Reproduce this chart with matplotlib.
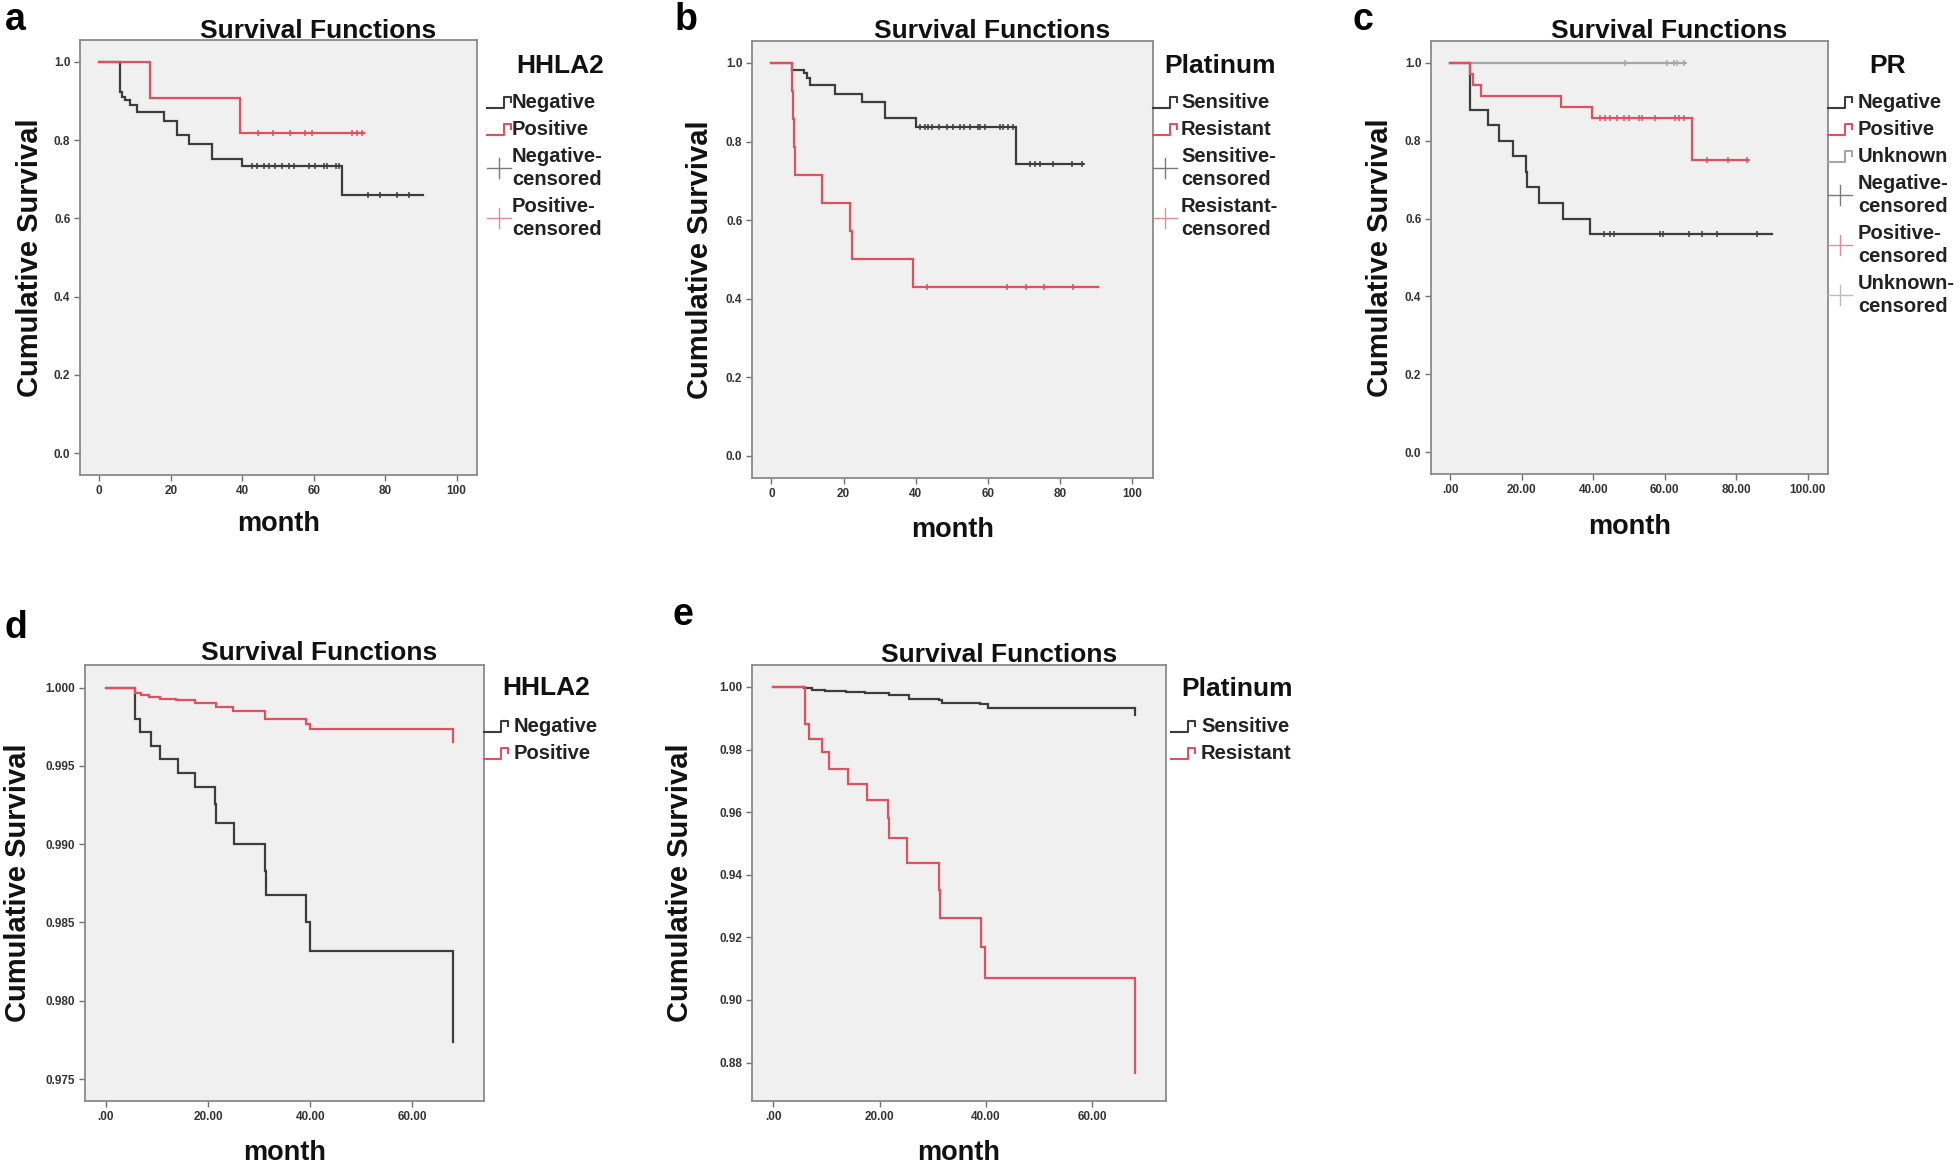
import numpy as np
import matplotlib
matplotlib.use('Agg')
import matplotlib.pyplot as plt
from matplotlib.lines import Line2D

plt.rcParams['font.family'] = ['Liberation Sans', 'DejaVu Sans']

W, H = 1960, 1170

# ---- panel a: HHLA2 ----
neg_a_t = [0, 5.7, 6.4, 7.3, 8.5, 10.6, 18.0, 21.8, 25.0, 31.6, 40.0, 68.0, 90.6]
neg_a_s = [1.0, 0.924, 0.911, 0.903, 0.890, 0.871, 0.849, 0.812, 0.790, 0.753, 0.734, 0.659, 0.659]
neg_a_c = [42.8, 44.2, 46.1, 47.5, 49.3, 51.2, 53.1, 54.5, 58.7, 60.5, 62.9, 63.8,
           66.2, 67.1, 75.3, 78.6, 83.2, 86.6]
pos_a_t = [0, 14.3, 39.3, 74.0]
pos_a_s = [1.0, 0.909, 0.818, 0.818]
pos_a_c = [44.5, 48.7, 53.5, 57.7, 59.4, 70.6, 72.2, 73.4]

# ---- panel b: Platinum ----
sens_b_t = [0, 5.7, 8.9, 9.9, 10.6, 17.7, 25.1, 31.5, 40.1, 67.7, 86.4]
sens_b_s = [1.0, 0.983, 0.974, 0.961, 0.944, 0.922, 0.901, 0.860, 0.838, 0.744, 0.744]
sens_b_c = [41.2, 42.6, 43.5, 44.4, 46.3, 48.6, 50.4, 52.3, 53.2, 55.0, 57.3, 57.8,
            59.2, 63.3, 64.2, 65.6, 67.0, 71.6, 73.0, 74.4, 78.1, 83.3, 86.1]
res_b_t = [0, 5.7, 6.0, 6.3, 6.6, 14.0, 21.7, 22.2, 39.2, 90.6]
res_b_s = [1.0, 0.929, 0.857, 0.786, 0.714, 0.643, 0.571, 0.500, 0.4286, 0.4286]
res_b_c = [43.2, 65.2, 70.4, 75.4, 83.5]

# ---- panel c: PR ----
neg_c_t = [0, 5.6, 10.6, 13.7, 17.6, 21.2, 21.6, 24.7, 31.5, 39.2, 90.0]
neg_c_s = [1.0, 0.88, 0.84, 0.80, 0.76, 0.72, 0.68, 0.64, 0.60, 0.56, 0.56]
neg_c_c = [42.9, 44.7, 45.9, 58.8, 59.4, 66.8, 70.5, 74.6, 85.8]
pos_c_t = [0, 5.6, 6.3, 8.7, 31.1, 39.7, 67.6, 83.4]
pos_c_s = [1.0, 0.971, 0.943, 0.914, 0.886, 0.857, 0.750, 0.750]
pos_c_c = [42.0, 43.4, 44.8, 46.6, 48.5, 49.9, 52.7, 53.6, 57.4, 62.9, 63.9, 65.3,
           71.7, 77.6, 82.9]
unk_c_t = [0, 65.7]
unk_c_s = [1.0, 1.0]
unk_c_c = [49.0, 60.6, 62.5, 63.4, 65.3]

# ---- panel d: HHLA2 (adjusted) ----
neg_d_t = [0, 5.6, 6.6, 8.9, 10.5, 14.1, 17.5, 21.3, 21.6, 25.0, 31.1, 31.4, 39.2, 39.9, 68.0]
neg_d_s = [1.0, 0.99798, 0.99713, 0.99628, 0.99543, 0.99457, 0.99362, 0.99255, 0.99138,
           0.99000, 0.98830, 0.98677, 0.98500, 0.98319, 0.97737]
pos_d_t = [0, 5.6, 6.9, 8.5, 10.5, 13.8, 17.4, 21.6, 24.9, 31.1, 39.2, 39.9, 68.0]
pos_d_s = [1.0, 0.99968, 0.99955, 0.99942, 0.99930, 0.99918, 0.99902, 0.99877, 0.99851,
           0.99798, 0.99766, 0.99738, 0.99652]

# ---- panel e: Platinum (adjusted) ----
sens_e_t = [0, 5.7, 7.3, 9.8, 13.6, 17.3, 21.7, 25.5, 31.1, 31.7, 38.9, 40.5, 68.0]
sens_e_s = [1.0, 0.9995, 0.9990, 0.9987, 0.9983, 0.9979, 0.9973, 0.9962, 0.9957, 0.9947,
            0.9944, 0.9932, 0.9910]
res_e_t = [0, 5.9, 6.7, 9.2, 10.4, 14.1, 17.6, 21.6, 21.8, 25.1, 31.1, 31.4, 39.1, 39.9, 68.0]
res_e_s = [1.0, 0.9883, 0.9835, 0.9793, 0.9739, 0.9689, 0.9640, 0.9580, 0.9516, 0.9438,
           0.9351, 0.9261, 0.9170, 0.9069, 0.8768]

# tick labels
x_ticks_100 = [0, 20, 40, 60, 80, 100]
x_labels_int = ['0', '20', '40', '60', '80', '100']
x_labels_dec = ['.00', '20.00', '40.00', '60.00', '80.00', '100.00']
x_ticks_60 = [0, 20, 40, 60]
x_labels_60 = ['.00', '20.00', '40.00', '60.00']
y_ticks_1 = [0.0, 0.2, 0.4, 0.6, 0.8, 1.0]
y_labels_1 = ['0.0', '0.2', '0.4', '0.6', '0.8', '1.0']
y_ticks_d = [0.975, 0.980, 0.985, 0.990, 0.995, 1.000]
y_labels_d = ['0.975', '0.980', '0.985', '0.990', '0.995', '1.000']
y_ticks_e = [0.88, 0.90, 0.92, 0.94, 0.96, 0.98, 1.00]
y_labels_e = ['0.88', '0.90', '0.92', '0.94', '0.96', '0.98', '1.00']

BLACK = '#3c3c3c'
RED = '#e0505e'
GRAY = '#a6a6a6'
FACE = '#f0f0f0'
SPINE = '#8a8a8a'

fig = plt.figure(figsize=(W / 100, H / 100), dpi=100)


def fx(x):
    return x / W


def fy(y):
    return 1 - y / H


def ftext(x, y, s, **kw):
    fig.text(fx(x), fy(y), s, **kw)


def add_panel(box, xlim, ylim, xt, xtl, yt, ytl):
    l, t, r, b = box
    ax = fig.add_axes([fx(l), fy(b), (r - l) / W, (b - t) / H])
    ax.set_facecolor(FACE)
    ax.set_xlim(*xlim)
    ax.set_ylim(*ylim)
    ax.set_xticks(xt)
    ax.set_xticklabels(xtl)
    ax.set_yticks(yt)
    ax.set_yticklabels(ytl)
    for sp in ax.spines.values():
        sp.set_color(SPINE)
        sp.set_linewidth(1.3)
    ax.tick_params(direction='out', length=4, width=1, color='#707070',
                   labelsize=8.5, labelcolor='#333333', pad=3)
    for lab in ax.get_xticklabels() + ax.get_yticklabels():
        lab.set_fontweight('bold')
    return ax


def km(ax, t, s, cens, color):
    ax.step(t, s, where='post', color=color, lw=1.6, solid_joinstyle='miter')
    if cens:
        t = np.asarray(t)
        s = np.asarray(s)
        idx = np.searchsorted(t, cens, side='right') - 1
        ax.plot(cens, s[idx], '+', color=color, ms=5, mew=1.1)


def decorate(ax, box, letter, letter_xy, title_xy, ylab_x, month_y):
    l, t, r, b = box
    ftext(letter_xy[0], letter_xy[1], letter, fontsize=27, fontweight='bold',
          ha='left', va='baseline')
    ftext(title_xy[0], title_xy[1], 'Survival Functions', fontsize=19,
          fontweight='bold', ha='center', va='baseline', color='#111111')
    ftext(ylab_x, (t + b) / 2, 'Cumulative Survival', fontsize=21,
          fontweight='bold', rotation=90, ha='center', va='center', color='#111111')
    ftext((l + r) / 2, month_y, 'month', fontsize=19.5, fontweight='bold',
          ha='center', va='center', color='#111111')


def legend(hx, tx, title, title_xy, top, entries):
    ftext(title_xy[0], title_xy[1], title, fontsize=19, fontweight='bold',
          ha='center', va='center', color='#111111')
    y = top
    for lines, kind, color in entries:
        n = len(lines)
        h = 27 + 23 * (n - 1)
        for i, ln in enumerate(lines):
            ftext(tx, y + 13.5 + 23 * i, ln, fontsize=14.5, fontweight='bold',
                  ha='left', va='center', color='#222222')
        yc = y + h / 2
        if kind == 'line':
            xs = [hx, hx + 17, hx + 17, hx + 24, hx + 24]
            ys = [yc + 5, yc + 5, yc - 6, yc - 6, yc - 1]
            fig.add_artist(Line2D([fx(v) for v in xs], [fy(v) for v in ys],
                                  color=color, lw=1.5, transform=fig.transFigure))
        else:
            fig.add_artist(Line2D([fx(hx), fx(hx + 24)], [fy(yc), fy(yc)],
                                  color=color, lw=1.0, transform=fig.transFigure))
            fig.add_artist(Line2D([fx(hx + 12), fx(hx + 12)], [fy(yc - 10), fy(yc + 10)],
                                  color=color, lw=1.0, transform=fig.transFigure))
        y += h


CEN_BLACK = '#7a7a7a'
CEN_RED = '#e88a94'
CEN_GRAY = '#bdbdbd'

# panel a
box_a = (80, 40, 477, 475)
ax = add_panel(box_a, (-5.4, 105.7), (-0.056, 1.056), x_ticks_100, x_labels_int,
               y_ticks_1, y_labels_1)
km(ax, neg_a_t, neg_a_s, neg_a_c, BLACK)
km(ax, pos_a_t, pos_a_s, pos_a_c, RED)
decorate(ax, box_a, 'a', (5, 30), (318, 38), 30, 524)
legend(487, 512, 'HHLA2', (560, 66), 89,
       [(['Negative'], 'line', BLACK), (['Positive'], 'line', RED),
        (['Negative-', 'censored'], 'cens', CEN_BLACK),
        (['Positive-', 'censored'], 'cens', CEN_RED)])

# panel b
box_b = (752, 41, 1153, 478)
ax = add_panel(box_b, (-5.4, 105.7), (-0.057, 1.056), x_ticks_100, x_labels_int,
               y_ticks_1, y_labels_1)
km(ax, sens_b_t, sens_b_s, sens_b_c, BLACK)
km(ax, res_b_t, res_b_s, res_b_c, RED)
decorate(ax, box_b, 'b', (675, 30), (992, 38), 700, 530)
legend(1153, 1181, 'Platinum', (1220, 66), 89,
       [(['Sensitive'], 'line', BLACK), (['Resistant'], 'line', RED),
        (['Sensitive-', 'censored'], 'cens', CEN_BLACK),
        (['Resistant-', 'censored'], 'cens', CEN_RED)])

# panel c
box_c = (1431, 41, 1828, 474)
ax = add_panel(box_c, (-5.4, 105.7), (-0.056, 1.056), x_ticks_100, x_labels_dec,
               y_ticks_1, y_labels_1)
km(ax, unk_c_t, unk_c_s, unk_c_c, GRAY)
km(ax, neg_c_t, neg_c_s, neg_c_c, BLACK)
km(ax, pos_c_t, pos_c_s, pos_c_c, RED)
decorate(ax, box_c, 'c', (1352, 30), (1669, 38), 1380, 527)
legend(1828, 1858, 'PR', (1888, 66), 89,
       [(['Negative'], 'line', BLACK), (['Positive'], 'line', RED),
        (['Unknown'], 'line', GRAY),
        (['Negative-', 'censored'], 'cens', CEN_BLACK),
        (['Positive-', 'censored'], 'cens', CEN_RED),
        (['Unknown-', 'censored'], 'cens', CEN_GRAY)])

# panel d
box_d = (85, 665, 484, 1101)
ax = add_panel(box_d, (-4.1, 74.0), (0.9736, 1.00144), x_ticks_60, x_labels_60,
               y_ticks_d, y_labels_d)
km(ax, neg_d_t, neg_d_s, None, BLACK)
km(ax, pos_d_t, pos_d_s, None, RED)
decorate(ax, box_d, 'd', (5, 638), (319, 660), 18, 1153)
legend(484, 514, 'HHLA2', (546, 688), 713,
       [(['Negative'], 'line', BLACK), (['Positive'], 'line', RED)])

# panel e
box_e = (752, 665, 1166, 1101)
ax = add_panel(box_e, (-4.0, 73.9), (0.8677, 1.007), x_ticks_60, x_labels_60,
               y_ticks_e, y_labels_e)
km(ax, sens_e_t, sens_e_s, None, BLACK)
km(ax, res_e_t, res_e_s, None, RED)
decorate(ax, box_e, 'e', (672, 625), (999, 662), 680, 1153)
legend(1171, 1201, 'Platinum', (1237, 689), 713,
       [(['Sensitive'], 'line', BLACK), (['Resistant'], 'line', RED)])

fig.savefig('out.png', dpi=100, facecolor='white')
